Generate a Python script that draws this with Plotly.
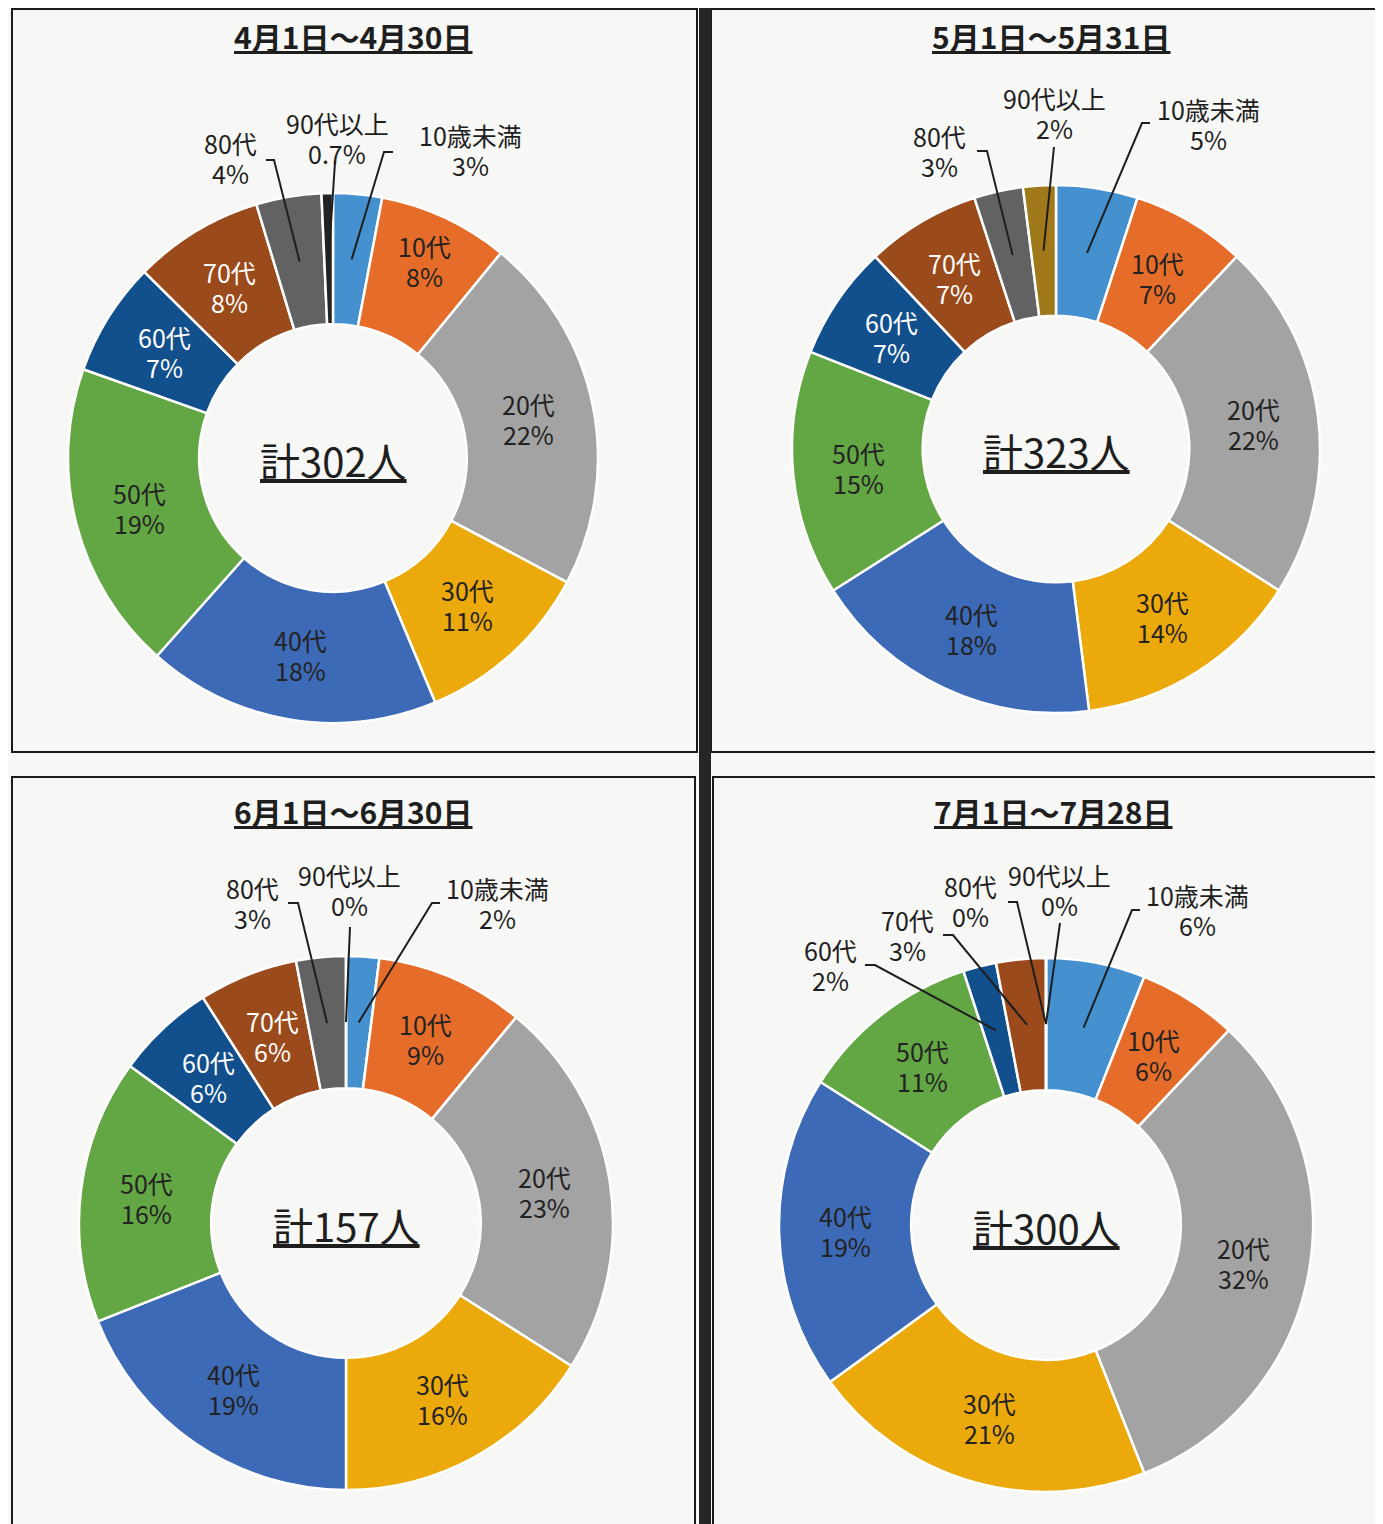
import math
import plotly.graph_objects as go

# window is 1383x1524; the page body has an 8px margin, so the figure is 8px smaller
OFF = 8
W, H = 1383 - OFF, 1524 - OFF

# ---------------- data ----------------
categories = ["10歳未満", "10代", "20代", "30代", "40代", "50代", "60代", "70代", "80代", "90代以上"]
titles = ["4月1日～4月30日", "5月1日～5月31日", "6月1日～6月30日", "7月1日～7月28日"]
totals = [302, 323, 157, 300]
apr_pct = [3, 8, 22, 11, 18, 19, 7, 8, 4, 0.7]
may_pct = [5, 7, 22, 14, 18, 15, 7, 7, 3, 2]
jun_pct = [2, 9, 23, 16, 19, 16, 6, 6, 3, 0]
jul_pct = [6, 6, 32, 21, 19, 11, 2, 3, 0, 0]

# ---------------- styles ----------------
base_colors = ["#4591cf", "#e56d29", "#a3a3a3", "#eba90c", "#3d6ab6",
               "#63a744", "#12508d", "#9b4a1b", "#626262", "#a07a1a"]
apr_colors = base_colors[:9] + ["#222222"]
text_colors = ["#222", "#222", "#222", "#222", "#222", "#222", "white", "white", "#222", "#222"]
FONT = "Noto Sans CJK JP"
LABEL_SIZE = 25
LINE_GAP = 30  # px between the two lines of a data label
INK = "#1e1e1e"

panels = [
    dict(pct=apr_pct, total=totals[0], title=titles[0], colors=apr_colors,
         cx=333, cy=458, r=265, title_xy=(353, 36), radius_override={1: 1.09},
         outside={0: ((470, 150), (393, 152), (384, 152)),
                  9: ((337, 138), (335, 162), None),
                  8: ((230, 158), (266, 160), (274, 160))}),
    dict(pct=may_pct, total=totals[1], title=titles[1], colors=base_colors,
         cx=1056, cy=449, r=264, title_xy=(1051, 36), radius_override={},
         outside={0: ((1208, 124), (1150, 123), (1142, 123)),
                  9: ((1054, 113), (1054, 147), None),
                  8: ((940, 151), (977, 151), (987, 151))}),
    dict(pct=jun_pct, total=totals[2], title=titles[2], colors=base_colors,
         cx=346, cy=1223, r=267, title_xy=(353, 811), radius_override={},
         outside={0: ((497, 903), (440, 903), (432, 903)),
                  9: ((349, 890), (350, 927), None),
                  8: ((252, 903), (288, 903), (298, 903))}),
    dict(pct=jul_pct, total=totals[3], title=titles[3], colors=base_colors,
         cx=1046, cy=1225, r=267, title_xy=(1053, 811), radius_override={},
         outside={0: ((1197, 910), (1140, 910), (1132, 910)),
                  9: ((1059, 890), (1060, 923), None),
                  8: ((970, 901), (1008, 902), (1017, 902)),
                  7: ((907, 935), (943, 935), (953, 935)),
                  6: ((830, 965), (865, 965), (875, 965))}),
]

HOLE = 0.505


def px(x, y):
    """page pixel -> paper fraction"""
    return (x - OFF) / W, 1 - (y - OFF) / H


def fmt(v):
    return f"{v:g}%"


def add_label(annotations, x, y, cat, val, color):
    for k, line in enumerate([cat, fmt(val)]):
        t = px(x, y + (k - 0.5) * LINE_GAP)
        annotations.append(dict(x=t[0], y=t[1], xref="paper", yref="paper", text=line,
                                showarrow=False, xanchor="center", yanchor="middle",
                                font=dict(family=FONT, size=LABEL_SIZE, color=color)))


fig = go.Figure()
annotations = []
shapes = []

# panel frames and the dark scan divider
frame = dict(type="rect", xref="paper", yref="paper", line=dict(color="#1a1a1a", width=2),
             fillcolor="rgba(0,0,0,0)", layer="below")
for (x0, y0, x1, y1) in [(12, 9, 697, 752), (711, 9, 1395, 752),
                         (12, 777, 695, 1540), (713, 777, 1395, 1540)]:
    a = px(x0, y0)
    b = px(x1, y1)
    shapes.append(dict(frame, x0=a[0], y0=b[1], x1=b[0], y1=a[1]))
bar0 = px(699, 0)
bar1 = px(711, 1524)
shapes.append(dict(type="rect", xref="paper", yref="paper", x0=bar0[0], x1=bar1[0],
                   y0=bar1[1], y1=bar0[1], fillcolor="#262626", line=dict(width=0)))

for p in panels:
    cx, cy, r = p["cx"], p["cy"], p["r"]
    vals = p["pct"]
    s = sum(vals)
    lo = px(cx - r, cy + r)
    hi = px(cx + r, cy - r)
    fig.add_trace(go.Pie(
        values=vals, labels=categories, sort=False, direction="clockwise", rotation=0,
        hole=HOLE, textinfo="none", showlegend=False,
        marker=dict(colors=p["colors"], line=dict(color="white", width=2.5)),
        domain=dict(x=[lo[0], hi[0]], y=[lo[1], hi[1]]), hoverinfo="label+percent",
    ))
    rm = r * (1 + HOLE) / 2
    cum = 0
    for i, v in enumerate(vals):
        theta = 2 * math.pi * (cum + v / 2) / s
        cum += v
        mx = cx + rm * math.sin(theta)
        my = cy - rm * math.cos(theta)
        if i in p["outside"]:
            (tx, ty), (sx, sy), elbow = p["outside"][i]
            add_label(annotations, tx, ty, categories[i], v, INK)
            pts = [(sx, sy)] + ([elbow] if elbow else []) + [(mx, my)]
            pp = [px(*q) for q in pts]
            path = "M " + " L ".join(f"{a:.5f},{b:.5f}" for a, b in pp)
            shapes.append(dict(type="path", xref="paper", yref="paper", path=path,
                               line=dict(color=INK, width=2)))
        elif v > 0:
            rr = rm * p["radius_override"].get(i, 1.0)
            lx = cx + rr * math.sin(theta)
            ly = cy - rr * math.cos(theta)
            add_label(annotations, lx, ly, categories[i], v, text_colors[i])
    # centre total
    c = px(cx, cy + 2)
    annotations.append(dict(x=c[0], y=c[1], xref="paper", yref="paper",
                            text=f"<u>計{p['total']}人</u>", showarrow=False,
                            xanchor="center", yanchor="middle",
                            font=dict(family=FONT, size=40, color=INK)))
    # panel title
    t = px(*p["title_xy"])
    annotations.append(dict(x=t[0], y=t[1], xref="paper", yref="paper",
                            text=f"<b><u>{p['title']}</u></b>", showarrow=False,
                            xanchor="center", yanchor="middle",
                            font=dict(family=FONT, size=30, color=INK)))

fig.update_layout(
    width=W, height=H, margin=dict(l=0, r=0, t=0, b=0),
    paper_bgcolor="#f7f7f5", plot_bgcolor="#f7f7f5",
    annotations=annotations, shapes=shapes,
    font=dict(family=FONT),
)
fig.write_html("out.html")
